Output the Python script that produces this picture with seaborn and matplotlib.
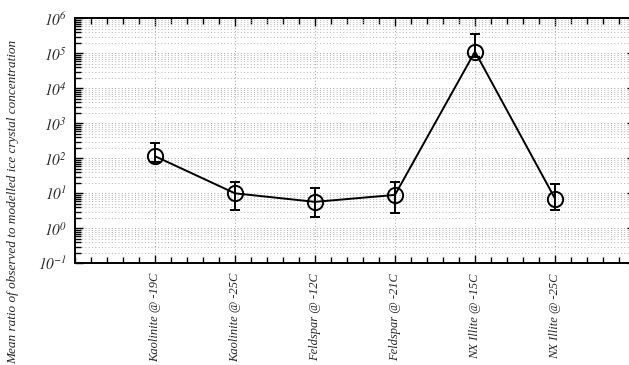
import numpy as np
import pandas as pd
import matplotlib
matplotlib.use("Agg")
import matplotlib.pyplot as plt
from matplotlib.ticker import LogLocator, FixedLocator, MultipleLocator, FuncFormatter, NullFormatter
import seaborn as sns

# Aerosol/temperature cases and mean observed/modelled ice crystal ratios
categories = ["Kaolinite @ -19C", "Kaolinite @ -25C", "Feldspar @ -12C",
              "Feldspar @ -21C", "NX Illite @ -15C", "NX Illite @ -25C"]
ratio = [115, 10, 5.7, 9, 1.12e5, 7.1]
ratio_low = [80, 3.3, 2.1, 2.7, 8.0e4, 3.3]
ratio_high = [270, 20.6, 13.9, 21, 3.55e5, 18]

sns.set_style("ticks")
plt.rcParams["font.family"] = ["Liberation Serif", "DejaVu Serif"]
plt.rcParams["font.style"] = "italic"
plt.rcParams["mathtext.fontset"] = "stix"

fig = plt.figure(figsize=(6.29, 3.65), dpi=100)
ax = fig.add_axes([0.1192, 0.2786, 0.8903, 0.6712])

pos = np.arange(1, len(categories) + 1)
df = pd.DataFrame({"pos": pos, "ratio": ratio})

yerr = np.array([np.array(ratio) - np.array(ratio_low),
                 np.array(ratio_high) - np.array(ratio)])
ax.errorbar(pos, ratio, yerr=yerr, fmt="none", ecolor="black",
            elinewidth=1.4, capsize=3.5, capthick=1.4, zorder=3)
sns.lineplot(data=df, x="pos", y="ratio", ax=ax, color="black",
             linewidth=1.4, marker="o", markersize=11,
             markerfacecolor="none", markeredgecolor="black",
             markeredgewidth=1.4, zorder=4)

ax.set_yscale("log")
ax.set_ylim(1e-1, 1e6)
ax.set_xlim(0, 7)

ax.yaxis.set_major_locator(LogLocator(base=10, numticks=20))
ax.yaxis.set_minor_locator(LogLocator(base=10, subs=np.arange(2, 10), numticks=20))
ax.yaxis.set_major_formatter(FuncFormatter(lambda v, p: r"$\mathit{10^{%d}}$" % int(round(np.log10(v)))))
ax.yaxis.set_minor_formatter(NullFormatter())

ax.xaxis.set_major_locator(FixedLocator(pos))
ax.xaxis.set_minor_locator(MultipleLocator(0.2))
ax.set_xticklabels(categories, rotation=90, fontsize=9, fontstyle="italic")
for t in ax.get_yticklabels():
    t.set_fontsize(11)

ax.tick_params(which="both", direction="in", top=True, right=True, width=1.0, color="black")
ax.tick_params(which="major", length=6)
ax.tick_params(which="minor", length=4)
ax.tick_params(axis="x", which="major", pad=7)
ax.tick_params(axis="y", which="major", pad=6)

ax.grid(True, which="major", axis="both", color="0.62", linewidth=0.7, linestyle=(0, (1.0, 2.4)))
ax.grid(True, which="minor", axis="y", color="0.7", linewidth=0.7, linestyle=(0, (1.0, 2.4)))
ax.set_axisbelow(True)

for s in ax.spines.values():
    s.set_linewidth(1.4)
    s.set_color("black")

ax.set_xlabel("")
ax.set_ylabel("Mean ratio of observed to modelled ice crystal concentration",
              fontsize=9.5, fontstyle="italic")
ax.yaxis.set_label_coords(-0.1, 0.25)

fig.savefig("out.png", dpi=100)
